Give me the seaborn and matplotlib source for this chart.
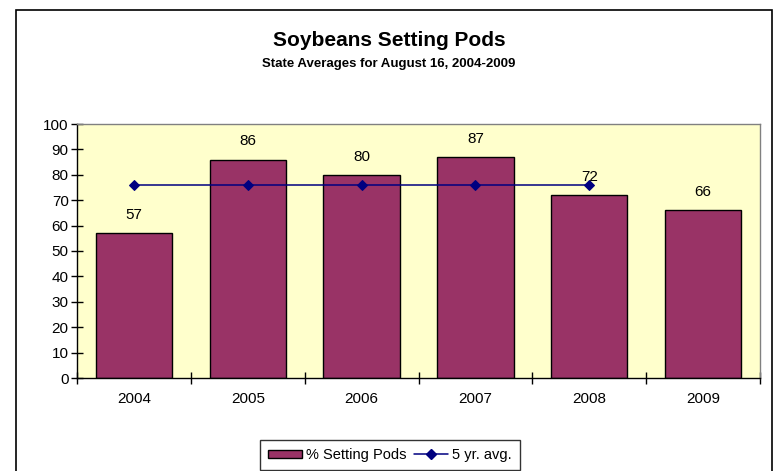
import numpy as np
import pandas as pd
import matplotlib
matplotlib.use("Agg")
import matplotlib.pyplot as plt
from matplotlib.patches import Rectangle, Patch
from matplotlib.lines import Line2D
import seaborn as sns

# --- data ---
years = ["2004", "2005", "2006", "2007", "2008", "2009"]
pods = [57, 86, 80, 87, 72, 66]
avg_years = ["2004", "2005", "2006", "2007", "2008"]
avg_vals = [76, 76, 76, 76, 76]
yticks = list(range(0, 101, 10))

bar_color = "#993366"
line_color = "#000080"

sns.set_style("white")
plt.rcParams["font.family"] = ["Liberation Sans", "DejaVu Sans"]
plt.rcParams["text.color"] = "black"
plt.rcParams["xtick.color"] = "black"
plt.rcParams["ytick.color"] = "black"
plt.rcParams["axes.labelcolor"] = "black"

df = pd.DataFrame({"year": years, "pods": pods})

fig = plt.figure(figsize=(7.78, 4.71), dpi=100)
ax = fig.add_axes([77 / 778, 1 - 378 / 471, (760 - 77) / 778, (378 - 124) / 471])
ax.set_facecolor("#FFFFCC")

sns.barplot(data=df, x="year", y="pods", color=bar_color, saturation=1,
            width=0.67, edgecolor="black", linewidth=1, ax=ax, zorder=2)

# 5 yr avg line on the same category positions
avg_pos = [years.index(y) for y in avg_years]
sns.lineplot(x=avg_pos, y=avg_vals, color=line_color, linewidth=1.1,
             marker="D", markersize=5.5, markeredgecolor=line_color, ax=ax, zorder=3)

# data labels
for i, v in enumerate(pods):
    ax.annotate(str(v), (i, v), xytext=(0, 8), textcoords="offset points",
                ha="center", va="bottom", fontsize=11)

ax.set_ylim(0, 100)
ax.set_xlim(-0.5, len(years) - 0.5)
ax.set_yticks(yticks)
ax.set_xlabel("")
ax.set_ylabel("")

# excel-ish axes
for side in ["top", "right"]:
    ax.spines[side].set_color("#808080")
    ax.spines[side].set_linewidth(1)
for side in ["left", "bottom"]:
    ax.spines[side].set_color("black")
    ax.spines[side].set_linewidth(1)

ax.tick_params(axis="y", direction="inout", length=8, width=1, labelsize=11, pad=2, left=True)
ax.tick_params(axis="x", which="major", length=0, labelsize=11, pad=10)
ax.set_xticks(np.arange(-0.5, len(years), 1), minor=True)
ax.tick_params(axis="x", which="minor", direction="inout", length=9, width=1, bottom=True)

# titles
fig.text(0.5, 1 - 40 / 471, "Soybeans Setting Pods", ha="center", va="center",
         fontsize=15, fontweight="bold")
fig.text(0.5, 1 - 64 / 471, "State Averages for August 16, 2004-2009", ha="center",
         va="center", fontsize=9.5, fontweight="bold")

# legend
handles = [
    Patch(facecolor=bar_color, edgecolor="black", linewidth=1),
    Line2D([0], [0], color=line_color, marker="D", markersize=5, linewidth=1.1),
]
leg = fig.legend(handles, ["% Setting Pods", "5 yr. avg."], loc="center",
                 bbox_to_anchor=(390 / 778, 1 - 455 / 471), ncol=2, fontsize=10.5,
                 frameon=True, fancybox=False, edgecolor="black", handlelength=2.3,
                 handleheight=0.5, columnspacing=0.5, handletextpad=0.3, borderpad=0.55)
leg.get_frame().set_linewidth(1)

# outer chart border (bottom edge runs off the canvas like the original)
fig.patches.append(Rectangle((16 / 778, -0.02), (772 - 16) / 778, 1 - 10 / 471 + 0.02,
                             transform=fig.transFigure, fill=False,
                             edgecolor="black", linewidth=1.2))

fig.savefig("out.png", dpi=100, facecolor="white")
